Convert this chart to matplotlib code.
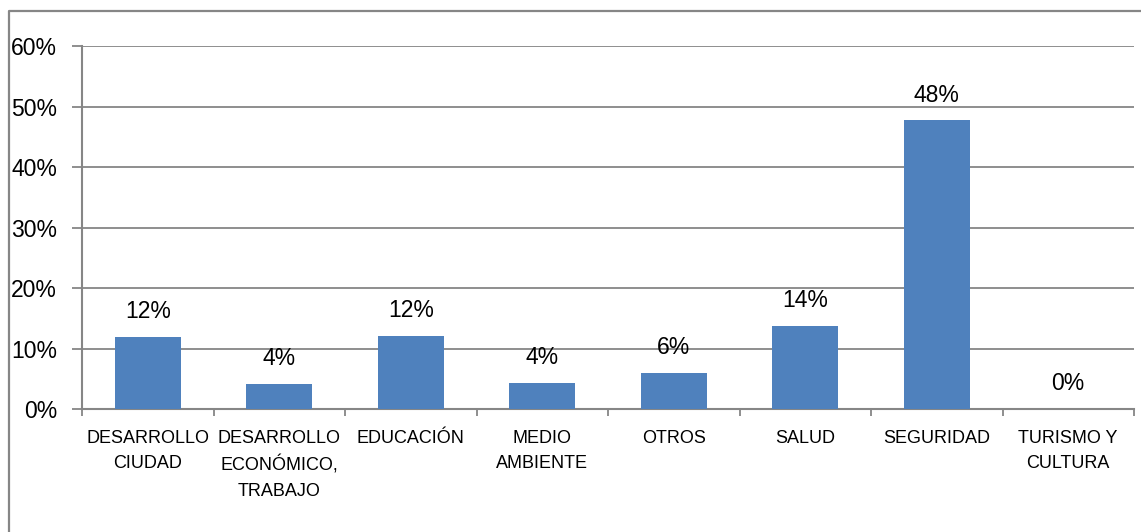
import matplotlib
matplotlib.use("Agg")
import matplotlib.pyplot as plt
from matplotlib.lines import Line2D
import numpy as np

categories = ["DESARROLLO\nCIUDAD", "DESARROLLO\nECONÓMICO,\nTRABAJO", "EDUCACIÓN",
              "MEDIO\nAMBIENTE", "OTROS", "SALUD", "SEGURIDAD", "TURISMO Y\nCULTURA"]
values = [11.9, 4.2, 12.1, 4.3, 6.0, 13.8, 47.7, 0.0]
labels = ["12%", "4%", "12%", "4%", "6%", "14%", "48%", "0%"]
yticks = [0, 10, 20, 30, 40, 50, 60]
ytick_labels = ["0%", "10%", "20%", "30%", "40%", "50%", "60%"]

W, H = 1141, 532
fig = plt.figure(figsize=(W / 100, H / 100), dpi=100)
fig.patch.set_facecolor("white")

left, right, top, bottom = 82, 1134, 46, 409
ax = fig.add_axes([left / W, 1 - bottom / H, (right - left) / W, (bottom - top) / H])

grid_c = "#868686"
x = np.arange(len(categories))
ax.bar(x, values, width=0.5, color="#4F81BD", zorder=3)
ax.set_xlim(-0.5, len(categories) - 0.5)
ax.set_ylim(0, 60)

ax.set_yticks(yticks)
ax.set_yticklabels(ytick_labels, fontsize=16.5, family="Liberation Sans")
ax.yaxis.grid(True, color=grid_c, linewidth=1.3, zorder=0)
ax.tick_params(axis="y", length=7, width=1.3, color=grid_c, pad=11)

# category boundaries as major ticks, labels at minor ticks
ax.set_xticks(np.arange(-0.5, len(categories), 1.0))
ax.set_xticklabels([])
ax.set_xticks(x, minor=True)
ax.set_xticklabels(categories, minor=True, fontsize=13,
                   family="Liberation Sans", linespacing=1.6)
ax.tick_params(axis="x", which="major", length=5, width=1.3, color=grid_c)
ax.tick_params(axis="x", which="minor", length=0, pad=15)

for s in ["top", "right"]:
    ax.spines[s].set_visible(False)
for s in ["left", "bottom"]:
    ax.spines[s].set_color(grid_c)
    ax.spines[s].set_linewidth(1.5)
ax.set_axisbelow(True)

for xi, v, lab in zip(x, values, labels):
    ax.annotate(lab, (xi, v), xytext=(0, 10), textcoords="offset points",
                ha="center", va="bottom", fontsize=16.5, family="Liberation Sans")

# outer chart-area frame (partially visible)
fig.add_artist(Line2D([8.5 / W, 8.5 / W, 1.0], [0.0, 1 - 10.5 / H, 1 - 10.5 / H],
                      transform=fig.transFigure, color=grid_c, linewidth=1.6))

fig.savefig("out.png", dpi=100)
